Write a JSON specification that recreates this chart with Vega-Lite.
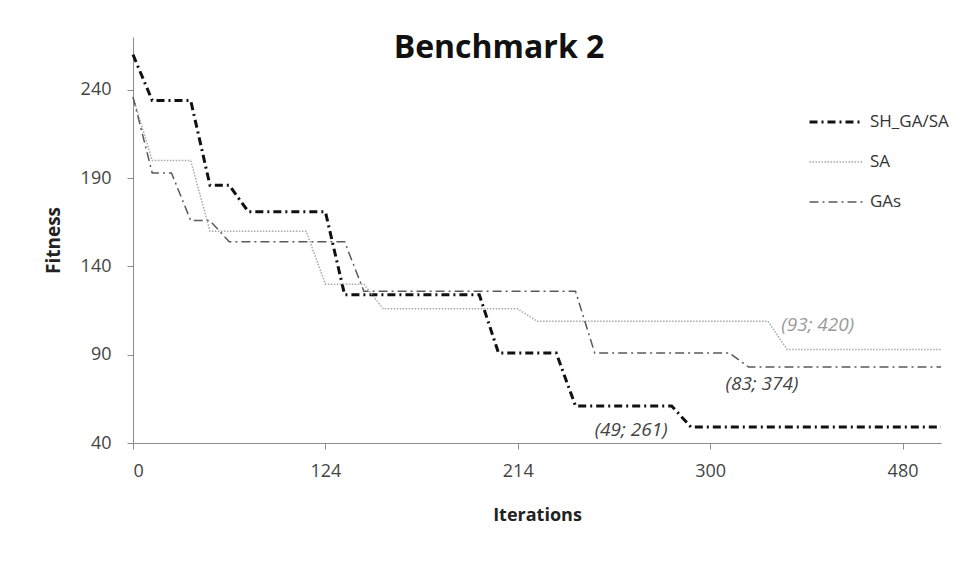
{
  "$schema": "https://vega.github.io/schema/vega-lite/v6.json",
  "width": 808,
  "height": 406,
  "autosize": {"type": "none"},
  "padding": {"left": 133, "top": 37, "right": 35, "bottom": 119},
  "background": "white",
  "title": {
    "text": "Benchmark 2",
    "font": "Open Sans",
    "fontSize": 32,
    "fontWeight": "bold",
    "color": "#111111",
    "anchor": "middle",
    "dx": -38,
    "offset": -28
  },
  "config": {
    "view": {"stroke": null},
    "font": "Open Sans"
  },
  "datasets": {
    "series": [
      {"algorithm": "SH_GA/SA", "step": 0, "fitness": 260},
      {"algorithm": "SH_GA/SA", "step": 1, "fitness": 234},
      {"algorithm": "SH_GA/SA", "step": 3, "fitness": 234},
      {"algorithm": "SH_GA/SA", "step": 4, "fitness": 186},
      {"algorithm": "SH_GA/SA", "step": 5, "fitness": 186},
      {"algorithm": "SH_GA/SA", "step": 6, "fitness": 171},
      {"algorithm": "SH_GA/SA", "step": 10, "fitness": 171},
      {"algorithm": "SH_GA/SA", "step": 11, "fitness": 124},
      {"algorithm": "SH_GA/SA", "step": 18, "fitness": 124},
      {"algorithm": "SH_GA/SA", "step": 19, "fitness": 91},
      {"algorithm": "SH_GA/SA", "step": 22, "fitness": 91},
      {"algorithm": "SH_GA/SA", "step": 23, "fitness": 61},
      {"algorithm": "SH_GA/SA", "step": 28, "fitness": 61},
      {"algorithm": "SH_GA/SA", "step": 29, "fitness": 49},
      {"algorithm": "SH_GA/SA", "step": 42, "fitness": 49},
      {"algorithm": "SA", "step": 0, "fitness": 236},
      {"algorithm": "SA", "step": 1, "fitness": 200},
      {"algorithm": "SA", "step": 3, "fitness": 200},
      {"algorithm": "SA", "step": 4, "fitness": 160},
      {"algorithm": "SA", "step": 9, "fitness": 160},
      {"algorithm": "SA", "step": 10, "fitness": 130},
      {"algorithm": "SA", "step": 12, "fitness": 130},
      {"algorithm": "SA", "step": 13, "fitness": 116},
      {"algorithm": "SA", "step": 20, "fitness": 116},
      {"algorithm": "SA", "step": 21, "fitness": 109},
      {"algorithm": "SA", "step": 33, "fitness": 109},
      {"algorithm": "SA", "step": 34, "fitness": 93},
      {"algorithm": "SA", "step": 42, "fitness": 93},
      {"algorithm": "GAs", "step": 0, "fitness": 236},
      {"algorithm": "GAs", "step": 1, "fitness": 193},
      {"algorithm": "GAs", "step": 2, "fitness": 193},
      {"algorithm": "GAs", "step": 3, "fitness": 166},
      {"algorithm": "GAs", "step": 4, "fitness": 166},
      {"algorithm": "GAs", "step": 5, "fitness": 154},
      {"algorithm": "GAs", "step": 11, "fitness": 154},
      {"algorithm": "GAs", "step": 12, "fitness": 126},
      {"algorithm": "GAs", "step": 23, "fitness": 126},
      {"algorithm": "GAs", "step": 24, "fitness": 91},
      {"algorithm": "GAs", "step": 31, "fitness": 91},
      {"algorithm": "GAs", "step": 32, "fitness": 83},
      {"algorithm": "GAs", "step": 42, "fitness": 83}
    ],
    "notes": [
      {"label": "(93; 420)", "step": 33.7, "fitness": 106.6, "tone": "light"},
      {"label": "(83; 374)", "step": 30.8, "fitness": 73.2, "tone": "dark"},
      {"label": "(49; 261)", "step": 24.0, "fitness": 47.6, "tone": "dark"}
    ]
  },
  "layer": [
    {
      "data": {"name": "series"},
      "mark": {"type": "line", "interpolate": "linear", "strokeCap": "butt"},
      "encoding": {
        "x": {
          "field": "step",
          "type": "quantitative",
          "scale": {"domain": [0, 42], "nice": false, "zero": false},
          "axis": {
            "title": "Iterations",
            "values": [0, 10, 20, 30, 40],
            "labelExpr": "datum.value == 0 ? '0' : datum.value == 10 ? '124' : datum.value == 20 ? '214' : datum.value == 30 ? '300' : '480'",
            "grid": false,
            "domainColor": "#8c8c8c",
            "tickColor": "#8c8c8c",
            "tickSize": 6,
            "labelPadding": 13,
            "labelFont": "Open Sans",
            "labelFontSize": 18,
            "labelColor": "#444444",
            "titleFont": "Open Sans",
            "titleFontSize": 18,
            "titleFontWeight": "bold",
            "titleColor": "#222222",
            "titlePadding": 26
          }
        },
        "y": {
          "field": "fitness",
          "type": "quantitative",
          "scale": {"domain": [40, 270], "nice": false, "zero": false},
          "axis": {
            "title": "Fitness",
            "values": [40, 90, 140, 190, 240],
            "grid": false,
            "domainColor": "#8c8c8c",
            "tickColor": "#8c8c8c",
            "tickSize": 6,
            "labelPadding": 16,
            "labelFont": "Open Sans",
            "labelFontSize": 18,
            "labelColor": "#444444",
            "titleFont": "Open Sans",
            "titleFontSize": 19,
            "titleFontWeight": "bold",
            "titleColor": "#222222",
            "titlePadding": 17
          }
        },
        "color": {
          "field": "algorithm",
          "type": "nominal",
          "scale": {"domain": ["SH_GA/SA", "SA", "GAs"], "range": ["#111111", "#a8a8a8", "#5a5a5a"]},
          "legend": {
            "title": null,
            "orient": "none",
            "legendX": 675,
            "legendY": 75,
            "padding": 0,
            "symbolType": "stroke",
            "symbolSize": 2916,
            "clipHeight": 20,
            "rowPadding": 20,
            "labelOffset": 5,
            "labelFont": "Open Sans",
            "labelFontSize": 17,
            "labelColor": "#333333"
          }
        },
        "strokeDash": {
          "field": "algorithm",
          "type": "nominal",
          "scale": {"domain": ["SH_GA/SA", "SA", "GAs"], "range": [[8, 4, 2, 4], [1.5, 1.5], [9, 4, 2, 4]]}
        },
        "strokeWidth": {
          "field": "algorithm",
          "type": "nominal",
          "scale": {"type": "ordinal", "domain": ["SH_GA/SA", "SA", "GAs"], "range": [3, 1.5, 1.5]}
        },
        "order": {"field": "step", "type": "quantitative"}
      }
    },
    {
      "data": {"name": "notes"},
      "mark": {"type": "text", "align": "left", "baseline": "middle", "fontStyle": "italic", "fontSize": 19, "font": "Open Sans"},
      "encoding": {
        "x": {"field": "step", "type": "quantitative"},
        "y": {"field": "fitness", "type": "quantitative"},
        "text": {"field": "label", "type": "nominal"},
        "color": {
          "condition": {"test": "datum.tone == 'light'", "value": "#9a9a9a"},
          "value": "#444444"
        }
      }
    }
  ]
}
